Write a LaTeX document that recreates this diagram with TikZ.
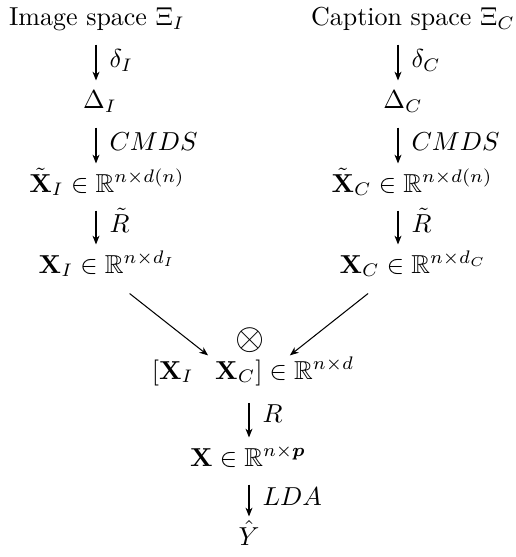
\documentclass[tikz,border=0pt]{standalone}
\usepackage{amsmath,amssymb}
\usetikzlibrary{arrows.meta,calc}
\begin{document}
\begin{tikzpicture}[x=0.385pt, y=-0.385pt, every node/.style={anchor=base, inner sep=0pt, text height=7pt, text depth=2.5pt}, >={Stealth[length=3.4pt, width=2.7pt]}, map/.style={->, shorten <=4.5pt, shorten >=3.8pt}, lbl/.style={right, xshift=5pt}]
		\useasboundingbox (0,0) rectangle (516,557);
		\coordinate (colI) at (96,0);
		\coordinate (colC) at (398,0);
		\coordinate (colM) at (249,0);
		\node (img) at (97,26) {Image space $\Xi_I$};
		\node (cap) at (413,26) {Caption space $\Xi_C$};
		\node (dI) at (100,109) {$\Delta_I$};
		\node (dC) at (403,109) {$\Delta_C$};
		\node (tI) at (107,192) {$\tilde{\mathbf{X}}_I \in \mathbb{R}^{n\times d(n)}$};
		\node (tC) at (412,192) {$\tilde{\mathbf{X}}_C \in \mathbb{R}^{n\times d(n)}$};
		\node (xI) at (107,273) {$\mathbf{X}_I \in \mathbb{R}^{n\times d_I}$};
		\node (xC) at (413,273) {$\mathbf{X}_C \in \mathbb{R}^{n\times d_C}$};
		\node[font=\Large] (ot) at (250,349) {$\otimes$};
		\node (cat) at (253,379) {$[\mathbf{X}_I\;\;\;\mathbf{X}_C] \in \mathbb{R}^{n\times d}$};
		\node (x) at (248,466) {$\mathbf{X} \in \mathbb{R}^{n\times \boldsymbol{p}}$};
		\node (y) at (249,545) {$\hat{Y}$};
		\draw[map] (img.south -| colI) -- node[lbl] {$\delta_I$} (dI.north -| colI);
		\draw[map] (dI.south -| colI) -- node[lbl] {$CMDS$} (tI.north -| colI);
		\draw[map] (tI.south -| colI) -- node[lbl] {$\tilde{R}$} (xI.north -| colI);
		\draw[map] (cap.south -| colC) -- node[lbl] {$\delta_C$} (dC.north -| colC);
		\draw[map] (dC.south -| colC) -- node[lbl] {$CMDS$} (tC.north -| colC);
		\draw[map] (tC.south -| colC) -- node[lbl] {$\tilde{R}$} (xC.north -| colC);
		\draw[->] ([shift={(8.7pt,-5.2pt)}]xI.south) -- ([shift={(-17.3pt,1.9pt)}]cat.north);
		\draw[->] ([shift={(-17.3pt,-5.2pt)}]xC.south) -- ([shift={(14.2pt,1.9pt)}]cat.north);
		\draw[map, shorten <=6.5pt] (cat.south -| colM) -- node[lbl] {$R$} (x.north -| colM);
		\draw[map] (x.south -| colM) -- node[lbl] {$LDA$} (y.north -| colM);
	\end{tikzpicture}
\end{document}
